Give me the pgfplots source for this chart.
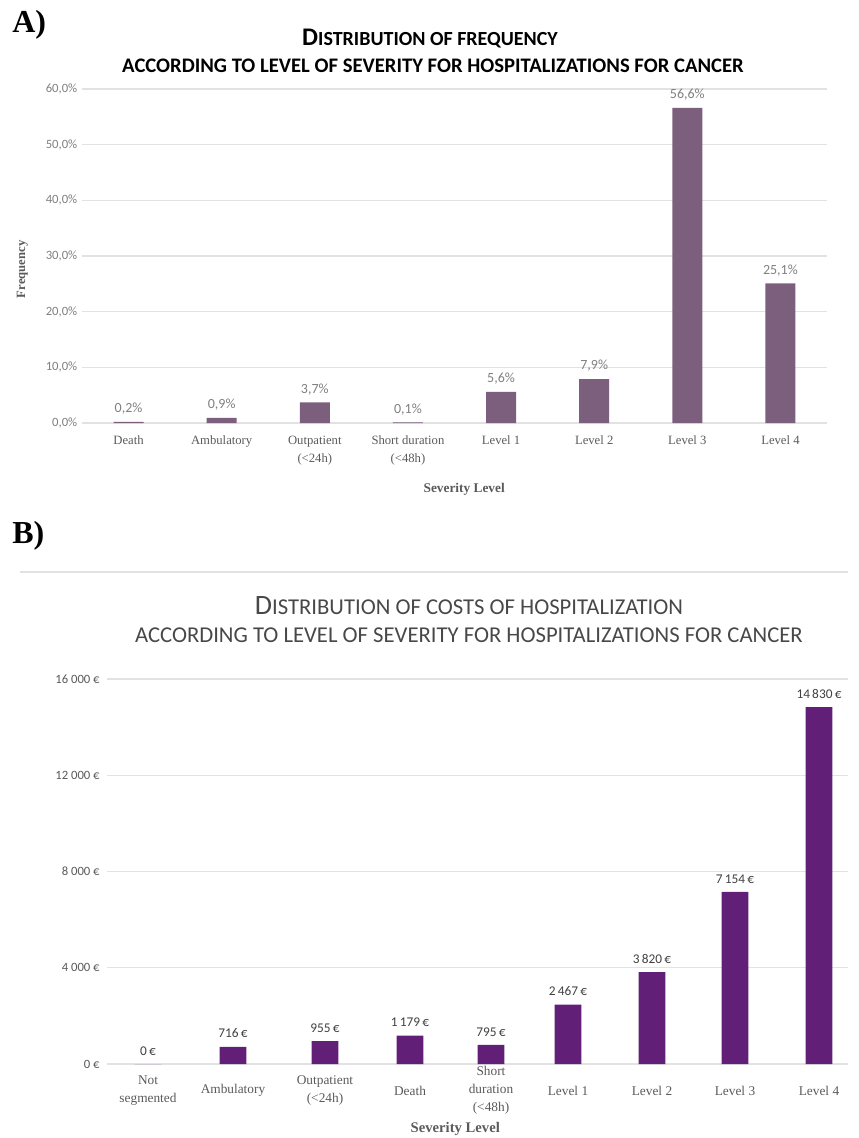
\documentclass[border=0pt]{standalone}
\usepackage{pgfplots}
\pgfplotsset{compat=1.18}
\usepackage{fontspec}
\setmainfont{Liberation Serif}
\newfontfamily\carlito{Carlito}
\definecolor{barA}{RGB}{123,95,125}
\definecolor{barB}{RGB}{98,31,120}
\definecolor{gridc}{RGB}{226,226,226}
\definecolor{tickc}{RGB}{128,128,128}
\definecolor{catc}{RGB}{90,90,90}
\definecolor{titB}{RGB}{72,72,72}
\begin{document}
\begin{tikzpicture}[x=0.75pt,y=0.75pt]
\path[use as bounding box] (0,0) rectangle (859,-1138);
% panel letters
\node[anchor=base west, font=\bfseries\fontsize{24}{24}\selectfont, inner sep=0] at (12,-33) {A)};
\node[anchor=base west, font=\bfseries\fontsize{24}{24}\selectfont, inner sep=0] at (12,-543) {B)};
% titles A
\node[anchor=base, inner sep=0, font=\carlito\bfseries] at (430,-46) {{\fontsize{19}{19}\selectfont D}{\fontsize{15}{15}\selectfont ISTRIBUTION OF FREQUENCY}};
\node[anchor=base, inner sep=0, font=\carlito\bfseries\fontsize{15.5}{15.5}\selectfont] at (433,-73) {ACCORDING TO LEVEL OF SEVERITY FOR HOSPITALIZATIONS FOR CANCER};
% frame line B
\draw[gridc, line width=1pt] (20,-572) -- (848,-572);
% titles B
\node[anchor=base, inner sep=0, font=\carlito, text=titB] at (469,-614) {{\fontsize{21}{21}\selectfont D}{\fontsize{17}{17}\selectfont ISTRIBUTION OF COSTS OF HOSPITALIZATION}};
\node[anchor=base, inner sep=0, font=\carlito\fontsize{17}{17}\selectfont, text=titB] at (469,-642) {ACCORDING TO LEVEL OF SEVERITY FOR HOSPITALIZATIONS FOR CANCER};

\begin{axis}[
  at={(61.5pt,-317.25pt)}, anchor=south west,
  scale only axis, width=558.75pt, height=250.5pt,
  xmin=-0.5, xmax=7.5, ymin=0, ymax=60,
  ytick={0,10,20,30,40,50,60},
  yticklabels={{0,0\%},{10,0\%},{20,0\%},{30,0\%},{40,0\%},{50,0\%},{60,0\%}},
  yticklabel style={font=\carlito\fontsize{9.5}{9.5}\selectfont, text=tickc},
  xtick={0,...,7},
  xticklabels={Death,Ambulatory,{Outpatient\\(<24h)},{Short duration\\(<48h)},Level 1,Level 2,Level 3,Level 4},
  xticklabel style={font=\fontsize{9.5}{13.5}\selectfont, text=catc, align=center, anchor=north, yshift=-6pt},
  ymajorgrids, grid style={gridc, line width=1pt},
  axis line style={draw=none}, tick style={draw=none},
  xlabel={Severity Level},
  xlabel style={font=\bfseries\fontsize{10}{10}\selectfont, text=catc, at={(axis description cs:0.513,-0.2)}, anchor=center},
  ylabel={Frequency},
  ylabel style={font=\bfseries\fontsize{9.5}{9.5}\selectfont, text=catc, at={(axis description cs:-0.08,0.46)}, anchor=center},
  /pgf/number format/assume math mode=true,
  clip=false,
]
\addplot[ybar, bar width=22.5pt, fill=barA, draw=none,
  nodes near coords={\pgfmathprintnumber[fixed,fixed zerofill,precision=1,use comma]{\pgfplotspointmeta}\%},
  every node near coord/.append style={font=\carlito\fontsize{10.5}{10.5}\selectfont, text=tickc, yshift=2pt}]
  coordinates {(0,0.2) (1,0.9) (2,3.7) (3,0.1) (4,5.6) (5,7.9) (6,56.6) (7,25.1)};
\end{axis}

\begin{axis}[
  at={(80.25pt,-798pt)}, anchor=south west,
  scale only axis, width=555.75pt, height=288.75pt,
  xmin=107, xmax=848, ymin=0, ymax=16000,
  scaled y ticks=false, scaled x ticks=false,
  ytick={0,4000,8000,12000,16000},
  yticklabels={0 €,4 000 €,8 000 €,12 000 €,16 000 €},
  yticklabel style={font=\carlito\fontsize{9.5}{9.5}\selectfont, text=catc, xshift=-2pt},
  xtick={148,233,325,410,491,568,652,735,819},
  xticklabels={{Not\\segmented},Ambulatory,{Outpatient\\(<24h)},Death,{Short\\duration\\(<48h)},Level 1,Level 2,Level 3,Level 4},
  xticklabel style={font=\fontsize{10}{13.5}\selectfont, text=catc, align=center, anchor=center, yshift=-20pt},
  ymajorgrids, grid style={gridc, line width=1pt},
  axis line style={draw=none}, tick style={draw=none},
  xlabel={Severity Level},
  xlabel style={font=\bfseries\fontsize{11}{11}\selectfont, text=catc, at={(axis description cs:0.47,-0.17)}, anchor=center},
  /pgf/number format/assume math mode=true,
  clip=false,
]
\addplot[ybar, bar width=20pt, fill=barB, draw=none,
  nodes near coords={\pgfmathprintnumber[fixed,precision=0,1000 sep={\,}]{\pgfplotspointmeta}\,€},
  every node near coord/.append style={font=\carlito\fontsize{10}{10}\selectfont, text=black!75, yshift=3pt}]
  coordinates {(148,0) (233,716) (325,955) (410,1179) (491,795) (568,2467) (652,3820) (735,7154) (819,14830)};
\end{axis}
\end{tikzpicture}
\end{document}
